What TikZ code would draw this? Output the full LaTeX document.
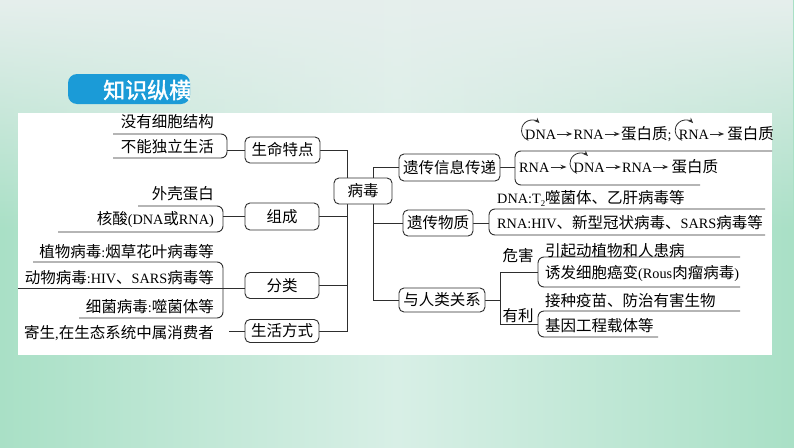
\documentclass[tikz,border=0pt]{standalone}
\usepackage{fontspec}
\setmainfont[Scale=0.92]{Liberation Serif}
\newfontfamily\cjk{Noto Sans CJK SC}
\newfontfamily\cjktitle[FakeBold=1.5]{Noto Sans CJK SC}
\usetikzlibrary{arrows.meta,fadings}
\XeTeXinterchartokenstate=1
\newXeTeXintercharclass\cjkcls
\newcount\cjkcnt
\cjkcnt="3000
\loop\XeTeXcharclass\cjkcnt=\cjkcls\advance\cjkcnt by 1 \ifnum\cjkcnt<"3040 \repeat
\cjkcnt="4E00
\loop\XeTeXcharclass\cjkcnt=\cjkcls\advance\cjkcnt by 1 \ifnum\cjkcnt<"A000 \repeat
\cjkcnt="FF00
\loop\XeTeXcharclass\cjkcnt=\cjkcls\advance\cjkcnt by 1 \ifnum\cjkcnt<"FFF0 \repeat
\XeTeXinterchartoks 0 \cjkcls={\cjk}
\XeTeXinterchartoks 4095 \cjkcls={\cjk}
\XeTeXinterchartoks \cjkcls 0={\rmfamily}
\XeTeXinterchartoks \cjkcls 4095={\rmfamily}
\newcommand\fs{\fontsize{15.5}{18}\selectfont}
\newcommand\subtwo{\raisebox{-3pt}{\fontsize{9.5}{10}\selectfont 2}}
\definecolor{ln}{HTML}{2E2E2E}
\definecolor{tabblue}{HTML}{1B9BD7}
\definecolor{gedge}{HTML}{A9E0C6}
\definecolor{gmid}{HTML}{D8EFE6}
\definecolor{gtop}{HTML}{E6EFED}
\pgfdeclarelayer{bg}
\pgfdeclarelayer{lines}
\pgfsetlayers{bg,lines,main}
\begin{document}
\begin{tikzpicture}[x=1pt,y=1pt,
  box/.style={draw=ln, line width=0.9pt, rounded corners=5pt, fill=white, inner sep=0pt, minimum height=26pt, font=\fs},
  lbl/.style={inner sep=0pt, font=\fs},
  seq/.style={inner sep=0pt, font=\fs, text height=11pt, text depth=3pt, anchor=west},
  conn/.style={draw=ln, line width=0.9pt},
  brk/.style={draw=ln, line width=0.9pt, rounded corners=6pt},
  flow/.style={draw=ln, line width=0.8pt, -{Stealth[length=6pt,width=4.5pt]}},
  cyc/.style={draw=ln, line width=0.8pt, -{Stealth[length=5.5pt,width=4.5pt]}}]
\useasboundingbox (0,0) rectangle (794,-447);
\begin{pgfonlayer}{bg}
  \shade[left color=gedge, right color=gedge, middle color=gmid] (0,0) rectangle (794,-447);
  \fill[gtop, path fading=south] (0,0) rectangle (794,-230);
  \fill[white] (18,-113) rectangle (772,-355);
\end{pgfonlayer}

% title tab
\begin{scope}
  \clip (0,0) rectangle (190,-447);
  \fill[tabblue, rounded corners=9pt] (68,-74) rectangle (190,-104);
  \node[inner sep=0pt, anchor=west, text=white, font=\fontsize{22}{24}\selectfont] (title) at (103,-90)
    {\XeTeXinterchartokenstate=0 \cjktitle 知识纵横};
\end{scope}

% central and category boxes
\node[box, minimum width=58pt] (bd) at (363,-191) {病毒};
\node[box, minimum width=75pt] (smtd) at (282.5,-150) {生命特点};
\node[box, minimum width=74pt, minimum height=27pt] (zc) at (282,-216.5) {组成};
\node[box, minimum width=74pt] (flei) at (282,-285.5) {分类};
\node[box, minimum width=74pt, minimum height=23pt] (shfs) at (282,-331) {生活方式};
\node[box, minimum width=101pt, minimum height=27pt] (ycxx) at (449.5,-167.5) {遗传信息传递};
\node[box, minimum width=70pt] (ycwz) at (438,-223) {遗传物质};
\node[box, minimum width=86pt, minimum height=24pt] (rlgx) at (442,-300) {与人类关系};

% left texts
\node[lbl, anchor=east] (t1) at (214,-122) {没有细胞结构};
\node[lbl, anchor=east] (t2) at (214,-147) {不能独立生活};
\node[lbl, anchor=east] (t3) at (214,-194) {外壳蛋白};
\node[lbl, anchor=east] (t4) at (214,-219) {核酸(DNA或RNA)};
\node[lbl, anchor=east] (t5) at (214,-252) {植物病毒:烟草花叶病毒等};
\node[lbl, anchor=east] (t6) at (214,-278) {动物病毒:HIV、SARS病毒等};
\node[lbl, anchor=east] (t7) at (214,-307) {细菌病毒:噬菌体等};
\node[lbl, anchor=east] (t8) at (214,-333) {寄生,在生态系统中属消费者};

% right texts
\node[lbl, anchor=west] (r1) at (497,-198) {DNA:T\subtwo 噬菌体、乙肝病毒等};
\node[lbl, anchor=west] (r2) at (497,-223) {RNA:HIV、新型冠状病毒、SARS病毒等};
\node[lbl] (whai) at (518,-256) {危害};
\node[lbl] (yli) at (518,-316) {有利};
\node[lbl, anchor=west] (h1) at (545,-251) {引起动植物和人患病};
\node[lbl, anchor=west] (h2) at (545,-273) {诱发细胞癌变(Rous肉瘤病毒)};
\node[lbl, anchor=west] (y1) at (545,-301) {接种疫苗、防治有害生物};
\node[lbl, anchor=west] (y2) at (545,-326) {基因工程载体等};

% information flow rows
\node[seq] (a1) at (525,-135) {DNA};
\node[seq] (a2) at ([xshift=17pt]a1.east) {RNA};
\node[seq] (a3) at ([xshift=17pt]a2.east) {蛋白质;};
\node[seq] (a4) at ([xshift=7pt]a3.east) {RNA};
\node[seq] (a5) at ([xshift=18pt]a4.east) {蛋白质};
\node[seq] (b1) at (519,-168) {RNA};
\node[seq] (b2) at ([xshift=24pt]b1.east) {DNA};
\node[seq] (b3) at ([xshift=17pt]b2.east) {RNA};
\node[seq] (b4) at ([xshift=19pt]b3.east) {蛋白质};
\draw[flow] ([xshift=1pt,yshift=1pt]a1.east) -- ([xshift=-1pt,yshift=1pt]a2.west);
\draw[flow] ([xshift=1pt,yshift=1pt]a2.east) -- ([xshift=-1pt,yshift=1pt]a3.west);
\draw[flow] ([xshift=1pt,yshift=1pt]a4.east) -- ([xshift=-3pt,yshift=1pt]a5.west);
\draw[flow] ([xshift=1pt,yshift=1pt]b1.east) -- ([xshift=-7pt,yshift=1pt]b2.west);
\draw[flow] ([xshift=1pt,yshift=1pt]b2.east) -- ([xshift=-1pt,yshift=1pt]b3.west);
\draw[flow] ([xshift=1pt,yshift=1pt]b3.east) -- ([xshift=-3pt,yshift=1pt]b4.west);
\draw[cyc] ([shift={(7pt,4.5pt)}]a1.west) ++(250:10.5pt) arc[start angle=250, end angle=45, radius=10.5pt];
\draw[cyc] ([shift={(7pt,4.5pt)}]a4.west) ++(250:10.5pt) arc[start angle=250, end angle=45, radius=10.5pt];
\draw[cyc] ([shift={(7pt,4.5pt)}]b2.west) ++(250:10.5pt) arc[start angle=250, end angle=45, radius=10.5pt];

% junction coordinates
\coordinate (lb) at (347.5,-331);
\coordinate (rb) at (373,-300);
\coordinate (k1) at (227,-150);
\coordinate (k2) at (223,-216.5);
\coordinate (k3) at (18,-288);
\coordinate (k4) at (229,-331);
\coordinate (k5) at (515,-167.5);
\coordinate (k6) at (489,-223);
\coordinate (k7) at (500,-300);
\coordinate (k8) at (500,-272);
\coordinate (k9) at (500,-324);
\coordinate (k10) at (538,-272);
\coordinate (k11) at (538,-324);

\begin{pgfonlayer}{lines}
  % trunks
  \draw[conn] (smtd.east) -| (lb) -- (shfs.east);
  \draw[conn] (zc.east) -- (zc.east -| lb);
  \draw[conn] (flei.east) -- (flei.east -| lb);
  \draw[conn] (ycxx.west) -| (rb) -- (rlgx.west);
  \draw[conn] (ycwz.west) -- (ycwz.west -| rb);
  % left brackets
  \draw[brk] (113,-134) -- (227,-134) -- (227,-158) -- (113,-158);
  \draw[conn] (k1) -- (smtd.west);
  \draw[brk] (138,-206) -- (223,-206) -- (223,-232) -- (58,-232);
  \draw[conn] (k2) -- (zc.west);
  \draw[brk] (33,-262) -- (223,-262) -- (223,-318) -- (79,-318);
  \draw[conn] (k3) -- (k3 -| flei.west);
  \draw[conn] (k4) -- (shfs.west);
  % right brackets
  \draw[brk] (772,-151) -- (515,-151) -- (515,-185) -- (700,-185);
  \draw[conn] (ycxx.east) -- (k5);
  \draw[brk] (765,-209) -- (489,-209) -- (489,-235) -- (765,-235);
  \draw[conn] (ycwz.east) -- (k6);
  \draw[conn] (rlgx.east) -- (k7);
  \draw[conn] (k10) -- (k8) -- (k9) -- (k11);
  \draw[brk] (740,-257) -- (538,-257) -- (538,-287) -- (740,-287);
  \draw[brk] (740,-311) -- (538,-311) -- (538,-337) -- (658,-337);
\end{pgfonlayer}
\end{tikzpicture}
\end{document}
